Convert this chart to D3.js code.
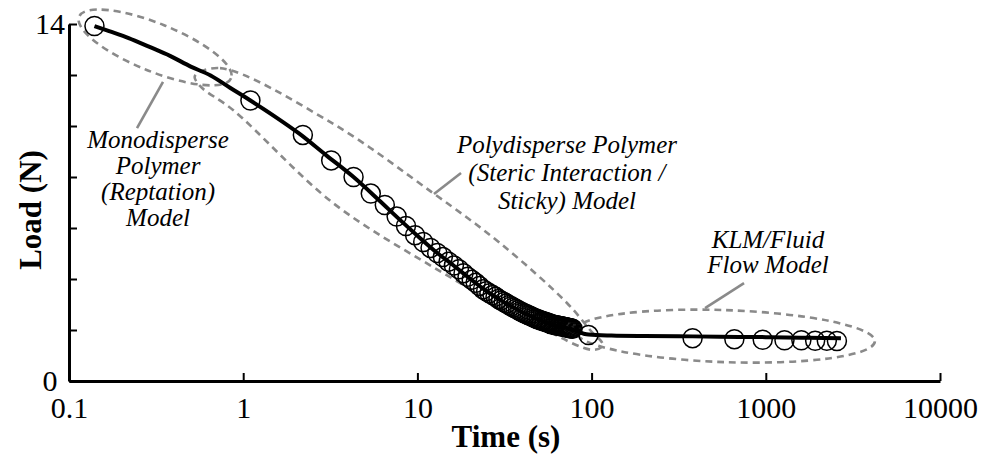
<!DOCTYPE html>
<html>
<head>
<meta charset="utf-8">
<script src="https://cdn.jsdelivr.net/npm/d3@7"></script>
<style>
  body { margin: 0; background: #fff; }
  text { font-family: "Liberation Serif", "Times New Roman", serif; }
</style>
</head>
<body>
<svg></svg>
<script>
const width = 987, height = 456;

// fitted model curve (time s, load N)
const fitTime = [0.14, 0.17, 0.22, 0.29, 0.38, 0.5, 0.65, 0.84, 1.1, 1.5, 2.1, 3.0, 4.3, 6, 8, 10, 13, 16, 20, 25, 30, 40, 50, 60, 75, 96, 130, 200, 380, 700, 1000, 1600, 2700];
const fitLoad = [13.92, 13.72, 13.45, 13.1, 12.75, 12.33, 11.98, 11.5, 11.0, 10.4, 9.7, 8.85, 8.0, 7.1, 6.3, 5.7, 5.02, 4.55, 4.02, 3.52, 3.17, 2.7, 2.4, 2.2, 2.05, 1.82, 1.78, 1.76, 1.75, 1.73, 1.72, 1.7, 1.68];

// measured points
const pointTime = [0.14, 1.1, 2.2, 3.2, 4.3, 5.4, 6.5, 7.6, 8.6, 9.7, 10.8, 11.9, 13.0, 14.0, 15.1, 16.2, 17.3, 18.4, 19.4, 20.5, 21.6, 22.7, 23.8, 24.8, 25.9, 27.0, 28.1, 29.2, 30.2, 31.3, 32.4, 33.5, 34.6, 35.6, 36.7, 37.8, 38.9, 40.0, 41.0, 42.1, 43.2, 44.3, 45.4, 46.4, 47.5, 48.6, 49.7, 50.8, 51.8, 52.9, 54.0, 55.1, 56.2, 57.2, 58.3, 59.4, 60.5, 61.6, 62.6, 63.7, 64.8, 65.9, 67.0, 68.0, 69.1, 70.2, 71.3, 72.4, 73.4, 74.5, 75.6, 76.7, 77.8, 96, 380, 660, 960, 1280, 1600, 1920, 2240, 2560];
const pointLoad = [13.92, 11.0, 9.65, 8.65, 8.0, 7.35, 6.9, 6.45, 6.08, 5.72, 5.45, 5.22, 5.02, 4.86, 4.68, 4.53, 4.38, 4.23, 4.09, 3.97, 3.85, 3.73, 3.60, 3.52, 3.44, 3.37, 3.30, 3.22, 3.16, 3.10, 3.04, 2.98, 2.93, 2.88, 2.83, 2.78, 2.74, 2.70, 2.66, 2.63, 2.59, 2.56, 2.52, 2.49, 2.46, 2.43, 2.41, 2.38, 2.36, 2.34, 2.32, 2.30, 2.28, 2.26, 2.24, 2.23, 2.21, 2.20, 2.19, 2.18, 2.17, 2.16, 2.15, 2.14, 2.13, 2.12, 2.11, 2.10, 2.09, 2.08, 2.07, 2.06, 2.05, 1.80, 1.68, 1.64, 1.62, 1.60, 1.60, 1.58, 1.58, 1.57];

const xTicks = [0.1, 1, 10, 100, 1000, 10000];
const xTickLabels = ['0.1', '1', '10', '100', '1000', '10000'];
const yTicks = [0, 2, 4, 6, 8, 10, 12, 14];
const yTickLabels = [0, 14];

// annotation regions (in data units)
const polyOutline = [[0.528, 11.96], [0.736, 12.27], [3.15, 10.16], [12.3, 7.37], [29.8, 5.41], [72.2, 3.06], [98, 2.0], [116, 1.41], [102, 1.22], [46.1, 2.27], [12.3, 4.47], [3.28, 6.98], [0.874, 10.63], [0.565, 11.57]];
const ellipses = [
  { t: 0.312, load: 13.08, rx: 82, ry: 24, angle: 22 },
  { t: 583, load: 1.76, rx: 150, ry: 26, angle: 2 }
];
const pointers = [
  [[0.3464, 11.73], [0.2457, 9.92]],
  [[17.8, 8.16], [12.45, 7.33]],
  [[750, 3.84], [448, 2.86]]
];
const labels = [
  { t: 0.3245, load: 9.14, lh: 26, lines: ['Monodisperse', 'Polymer', '(Reptation)', 'Model'] },
  { t: 72.2, load: 8.94, lh: 28, lines: ['Polydisperse Polymer', '(Steric Interaction /', 'Sticky) Model'] },
  { t: 1029, load: 5.22, lh: 25, lines: ['KLM/Fluid', 'Flow Model'] }
];

const svg = d3.select('svg')
    .attr('width', width)
    .attr('height', height);

const x = d3.scaleLog().domain([0.1, 10000]).range([69, 940]);
const y = d3.scaleLinear().domain([0, 14]).range([381, 24]);

const grey = '#8a8a8a';

// annotations behind the data
const ann = svg.append('g')
    .attr('fill', 'none')
    .attr('stroke', grey)
    .attr('stroke-width', 2.6);

ann.append('path')
    .attr('d', d3.line().x(d => x(d[0])).y(d => y(d[1])).curve(d3.curveCatmullRomClosed)(polyOutline))
    .attr('stroke-dasharray', '7,5');

ann.selectAll('ellipse')
    .data(ellipses)
    .join('ellipse')
    .attr('transform', d => `translate(${x(d.t)},${y(d.load)}) rotate(${d.angle})`)
    .attr('rx', d => d.rx)
    .attr('ry', d => d.ry)
    .attr('stroke-dasharray', '7,5');

ann.selectAll('line')
    .data(pointers)
    .join('line')
    .attr('x1', d => x(d[0][0]))
    .attr('y1', d => y(d[0][1]))
    .attr('x2', d => x(d[1][0]))
    .attr('y2', d => y(d[1][1]));

const lab = svg.append('g')
    .attr('font-style', 'italic')
    .attr('font-size', 25)
    .attr('text-anchor', 'middle');

labels.forEach(l => {
    const t = lab.append('text')
        .attr('x', x(l.t))
        .attr('y', y(l.load));
    l.lines.forEach((s, i) => {
        t.append('tspan')
            .attr('x', x(l.t))
            .attr('dy', i === 0 ? 0 : l.lh)
            .text(s);
    });
});

// data points
svg.append('g')
    .selectAll('circle')
    .data(pointTime.map((t, i) => [t, pointLoad[i]]))
    .join('circle')
    .attr('cx', d => x(d[0]))
    .attr('cy', d => y(d[1]))
    .attr('r', 9.5)
    .attr('fill', 'none')
    .attr('stroke', '#000')
    .attr('stroke-width', 1.5);

// model line
svg.append('path')
    .attr('d', d3.line().x(d => x(d[0])).y(d => y(d[1])).curve(d3.curveMonotoneX)(fitTime.map((t, i) => [t, fitLoad[i]])))
    .attr('fill', 'none')
    .attr('stroke', '#000')
    .attr('stroke-width', 4);

// axes
const xAxis = svg.append('g')
    .attr('transform', `translate(0, ${y(0)})`)
    .call(d3.axisBottom(x).tickValues(xTicks).tickSize(-8).tickSizeOuter(0)
        .tickFormat((d, i) => xTickLabels[i]));
xAxis.select('.domain').attr('stroke-width', 3);
xAxis.selectAll('.tick line').attr('stroke-width', 2);
xAxis.selectAll('.tick text')
    .attr('y', 37)
    .attr('dy', 0)
    .attr('font-size', 30)
    .attr('font-family', '"Liberation Serif", "Times New Roman", serif')
    .attr('fill', '#000');

const yAxis = svg.append('g')
    .attr('transform', `translate(${x(0.1)}, 0)`)
    .call(d3.axisLeft(y).tickValues(yTicks).tickSize(-8).tickSizeOuter(0)
        .tickFormat(d => yTickLabels.includes(d) ? d : ''));
yAxis.select('.domain').attr('stroke-width', 3);
yAxis.selectAll('.tick line').attr('stroke-width', 2);
yAxis.selectAll('.tick text')
    .attr('x', -19)
    .attr('dy', '0.33em')
    .attr('text-anchor', 'middle')
    .attr('font-size', 30)
    .attr('font-family', '"Liberation Serif", "Times New Roman", serif')
    .attr('fill', '#000');

svg.append('text')
    .attr('x', 506)
    .attr('y', 447)
    .attr('text-anchor', 'middle')
    .attr('font-weight', 'bold')
    .attr('font-size', 31)
    .text('Time (s)');

svg.append('text')
    .attr('transform', 'translate(41, 210) rotate(-90)')
    .attr('text-anchor', 'middle')
    .attr('font-weight', 'bold')
    .attr('font-size', 31)
    .text('Load (N)');
</script>
</body>
</html>
